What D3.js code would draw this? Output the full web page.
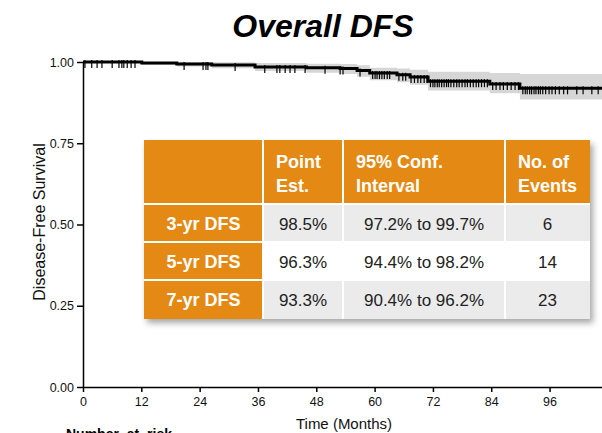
<html>
  <head>
    <script src="https://d3js.org/d3.v7.min.js" charset="utf-8"></script>
    <style>
      body { margin: 0; background: #fff; }
      text { font-family: "Liberation Sans", Arial, sans-serif; }
    </style>
    <script type="text/javascript">
      window.onload = function () {

        // KM step points (months / survival / 95% band)
        var times = [0, 12.1, 19.3, 26.5, 35.4, 46, 52.9, 56.4, 59, 64.6, 67.3, 71, 83.7, 89.9, 108]
        var surv = [1, 0.997, 0.994, 0.991, 0.985, 0.982, 0.980, 0.974, 0.966, 0.961, 0.954, 0.941, 0.932, 0.919, 0.919]
        var lower = [1, 0.991, 0.986, 0.981, 0.972, 0.967, 0.963, 0.955, 0.944, 0.938, 0.930, 0.912, 0.904, 0.885, 0.885]
        var upper = [1, 1, 1, 0.999, 0.997, 0.995, 0.994, 0.990, 0.982, 0.980, 0.976, 0.970, 0.966, 0.963, 0.963]

        // censored observations (months)
        var censorTimes = [0.4, 1.8, 2.9, 3.9, 6.0, 7.4, 8.0, 8.4, 9.1, 9.9, 10.7, 20.8, 24.7, 25.3, 25.7, 31.3,
          37.4, 39.9, 40.5, 41.6, 42.6, 43.6, 45.7, 49.8, 52.9, 53.5, 57.0, 59.6, 60.1, 60.5, 61.0, 61.5, 62.0,
          62.6, 63.1, 65.0, 65.8, 66.4, 67.5, 68.2, 68.9, 69.5, 70.2, 70.8, 71.5, 72.0, 72.4, 72.9, 73.3, 73.8,
          74.3, 74.8, 75.2, 75.7, 76.3, 76.9, 77.4, 78.0, 78.6, 79.1, 79.7, 80.3, 80.9, 81.4, 82.0, 82.6, 83.2,
          84.3, 85.0, 85.8, 86.5, 87.3, 88.1, 88.9, 89.6, 90.5, 91.0, 91.4, 91.9, 92.3, 92.8, 93.2, 93.7, 94.1,
          94.6, 95.2, 95.9, 96.5, 97.2, 98.0, 98.9, 99.7, 101.6, 102.9, 104.7, 106.0]

        var xTicks = [0, 12, 24, 36, 48, 60, 72, 84, 96]
        var yTicks = [0, 0.25, 0.5, 0.75, 1]

        // table
        var tableHeader = ["", "Point\nEst.", "95% Conf.\nInterval", "No. of\nEvents"]
        var rowLabels = ["3-yr DFS", "5-yr DFS", "7-yr DFS"]
        var pointEst = ["98.5%", "96.3%", "93.3%"]
        var confInt = ["97.2% to 99.7%", "94.4% to 98.2%", "90.4% to 96.2%"]
        var nEvents = ["6", "14", "23"]

        var width = 602
        var height = 433
        var x0 = 83, yTop = 62, yBot = 387

        var svg = d3.select("body").append("svg")
          .attr("width", width)
          .attr("height", height)

        var defs = svg.append("defs")
        var f = defs.append("filter").attr("id", "shadow")
          .attr("x", "-5%").attr("y", "-5%").attr("width", "115%").attr("height", "120%")
        f.append("feDropShadow").attr("dx", 3).attr("dy", 4).attr("stdDeviation", 3)
          .attr("flood-color", "#000").attr("flood-opacity", 0.35)

        var x = d3.scaleLinear().domain([0, 108]).range([x0, x0 + 108 * 4.86])
        var y = d3.scaleLinear().domain([0, 1]).range([yBot, yTop])

        var pts = times.map(function (t, i) {
          return { t: t, s: surv[i], lo: lower[i], hi: upper[i] }
        })

        // title
        svg.append("text")
          .attr("x", 323).attr("y", 37)
          .attr("text-anchor", "middle")
          .attr("font-size", "32px")
          .attr("font-weight", "bold")
          .attr("font-style", "italic")
          .text("Overall DFS")

        // CI band
        svg.append("path")
          .datum(pts)
          .attr("fill", "#d6d6d6")
          .attr("d", d3.area().curve(d3.curveStepAfter)
            .x(function (d) { return x(d.t) })
            .y0(function (d) { return y(d.lo) })
            .y1(function (d) { return y(d.hi) }))

        // survival curve
        svg.append("path")
          .datum(pts)
          .attr("fill", "none")
          .attr("stroke", "#000")
          .attr("stroke-width", 3)
          .attr("d", d3.line().curve(d3.curveStepAfter)
            .x(function (d) { return x(d.t) })
            .y(function (d) { return y(d.s) }))

        // censor marks
        var stepS = function (t) {
          var i = d3.bisectRight(times, t) - 1
          return surv[Math.max(0, i)]
        }
        svg.append("g").selectAll("line")
          .data(censorTimes)
          .enter()
          .append("line")
          .attr("x1", function (d) { return x(d) })
          .attr("x2", function (d) { return x(d) })
          .attr("y1", function (d) { return y(stepS(d)) - 2 })
          .attr("y2", function (d) { return y(stepS(d)) + 6 })
          .attr("stroke", "#000")
          .attr("stroke-width", 1.2)

        // axes
        var yAxis = svg.append("g")
          .attr("transform", "translate(" + x0 + ",0)")
          .call(d3.axisLeft(y).tickValues(yTicks).tickSize(6).tickSizeOuter(0)
            .tickFormat(d3.format(".2f")))
        var xAxis = svg.append("g")
          .attr("transform", "translate(0," + yBot + ")")
          .call(d3.axisBottom(x).tickValues(xTicks).tickSize(5).tickSizeOuter(0))

        ;[yAxis, xAxis].forEach(function (g) {
          g.select(".domain").attr("stroke", "#000").attr("stroke-width", 1.5)
          g.selectAll(".tick line").attr("stroke", "#000").attr("stroke-width", 1.5)
          g.selectAll("text").attr("font-size", "12.5px").attr("fill", "#111")
            .attr("font-family", "Liberation Sans, Arial, sans-serif")
        })
        yAxis.selectAll("text").attr("x", -9)
        xAxis.selectAll("text").attr("y", 10)

        svg.append("text")
          .attr("transform", "translate(45,222) rotate(-90)")
          .attr("text-anchor", "middle")
          .attr("font-size", "16px")
          .attr("fill", "#111")
          .text("Disease-Free Survival")

        svg.append("text")
          .attr("x", 344).attr("y", 429)
          .attr("text-anchor", "middle")
          .attr("font-size", "15px")
          .attr("fill", "#111")
          .text("Time (Months)")

        svg.append("text")
          .attr("x", 66).attr("y", 439)
          .attr("font-size", "14px")
          .attr("font-weight", "bold")
          .attr("word-spacing", "4px")
          .text("Number at risk")

        // table
        var colX = [144, 263, 343, 505, 590]
        var rowY = [140, 204, 242, 280, 319]
        var orange = "#E48A14"
        var tbl = svg.append("g")

        tbl.append("rect")
          .attr("x", colX[0]).attr("y", rowY[0])
          .attr("width", colX[4] - colX[0]).attr("height", rowY[4] - rowY[0])
          .attr("fill", "#fff")
          .attr("filter", "url(#shadow)")

        var cells = []
        tableHeader.forEach(function (h, c) {
          cells.push({ r: 0, c: c, text: h, head: true })
        })
        rowLabels.forEach(function (lab, r) {
          cells.push({ r: r + 1, c: 0, text: lab, head: true })
          cells.push({ r: r + 1, c: 1, text: pointEst[r] })
          cells.push({ r: r + 1, c: 2, text: confInt[r] })
          cells.push({ r: r + 1, c: 3, text: nEvents[r] })
        })

        tbl.selectAll("rect.cell")
          .data(cells)
          .enter()
          .append("rect")
          .attr("class", "cell")
          .attr("x", function (d) { return colX[d.c] + (d.c > 0 ? 1 : 0) })
          .attr("y", function (d) { return rowY[d.r] + (d.r > 0 ? 1 : 0) })
          .attr("width", function (d) { return colX[d.c + 1] - colX[d.c] - (d.c > 0 ? 1 : 0) - (d.c < 3 ? 1 : 0) })
          .attr("height", function (d) { return rowY[d.r + 1] - rowY[d.r] - (d.r > 0 ? 1 : 0) - (d.r < 3 ? 1 : 0) })
          .attr("fill", function (d) {
            if (d.head) return orange
            return d.r === 2 ? "#fff" : "#ebebeb"
          })

        cells.forEach(function (d) {
          var cy = (rowY[d.r] + rowY[d.r + 1]) / 2
          if (d.r === 0) {
            var lines = d.text.split("\n")
            lines.forEach(function (ln, k) {
              tbl.append("text")
                .attr("x", colX[d.c] + 13)
                .attr("y", 168 + k * 24)
                .attr("font-size", "18px")
                .attr("font-weight", "bold")
                .attr("fill", "#fff")
                .text(ln)
            })
          } else {
            tbl.append("text")
              .attr("x", (colX[d.c] + colX[d.c + 1]) / 2)
              .attr("y", cy + 6.5)
              .attr("text-anchor", "middle")
              .attr("font-size", d.head ? "18px" : "17px")
              .attr("font-weight", d.head ? "bold" : "normal")
              .attr("fill", d.head ? "#fff" : "#222")
              .text(d.text)
          }
        })
      }
    </script>
  </head>
  <body>
  </body>
</html>
